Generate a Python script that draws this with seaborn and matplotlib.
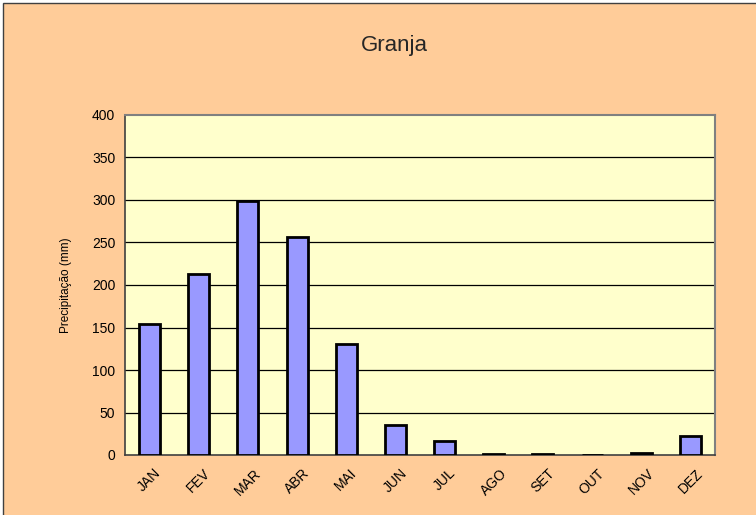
import numpy as np
import pandas as pd
import matplotlib
matplotlib.use("Agg")
import matplotlib.pyplot as plt
from matplotlib.patches import Rectangle
from matplotlib.ticker import FixedLocator
import seaborn as sns

meses = ['JAN', 'FEV', 'MAR', 'ABR', 'MAI', 'JUN', 'JUL', 'AGO', 'SET', 'OUT', 'NOV', 'DEZ']
precipitacao = [154, 213, 299, 256, 131, 35, 16, 1, 1, 0.5, 2.5, 22]

df = pd.DataFrame({'mes': meses, 'precip': precipitacao})

sns.set_style('white')
plt.rcParams['font.family'] = ['Liberation Sans', 'DejaVu Sans']

fig = plt.figure(figsize=(7.56, 5.15), dpi=100)
fig.patch.set_facecolor('white')
# chart area background (Excel style)
fig.add_artist(Rectangle((3 / 756, -0.01), 1.0, 1 - 3 / 515 + 0.01, transform=fig.transFigure,
                         facecolor='#FFCC99', edgecolor='#404040', linewidth=1, zorder=-10))

ax = fig.add_axes([125 / 756, 60 / 515, 590 / 756, 340 / 515])
ax.set_facecolor('#FFFFCC')

sns.barplot(data=df, x='mes', y='precip', color='#9999FF', edgecolor='black',
            linewidth=2, width=0.43, saturation=1, ax=ax, zorder=3)

ax.set_ylim(0, 400)
ax.set_xlim(-0.5, len(meses) - 0.5)
ax.set_yticks(range(0, 401, 50))
for y in range(50, 400, 50):
    ax.axhline(y, color='black', linewidth=0.9, zorder=1)

ax.tick_params(axis='y', length=4, width=1, color='#404040', labelsize=10, pad=3, labelcolor='black')
ax.tick_params(axis='x', which='major', length=0, labelsize=10, pad=8, labelcolor='black')
ax.xaxis.set_minor_locator(FixedLocator(np.arange(-0.5, len(meses), 1.0)))
ax.tick_params(axis='x', which='minor', length=4, width=1, color='#404040', direction='out')
plt.setp(ax.get_xticklabels(), rotation=45, ha='center', rotation_mode='default')

for side in ['top', 'right']:
    ax.spines[side].set_color('#808080')
    ax.spines[side].set_linewidth(1.5)
for side in ['left', 'bottom']:
    ax.spines[side].set_color('#404040')
    ax.spines[side].set_linewidth(1.2)

ax.set_xlabel('')
ax.set_ylabel('Precipitação (mm)', fontsize=8.5, labelpad=14, color='black')
fig.text(394 / 756, 1 - 45 / 515, 'Granja', ha='center', va='center', fontsize=16)

fig.savefig('out.png', dpi=100)
